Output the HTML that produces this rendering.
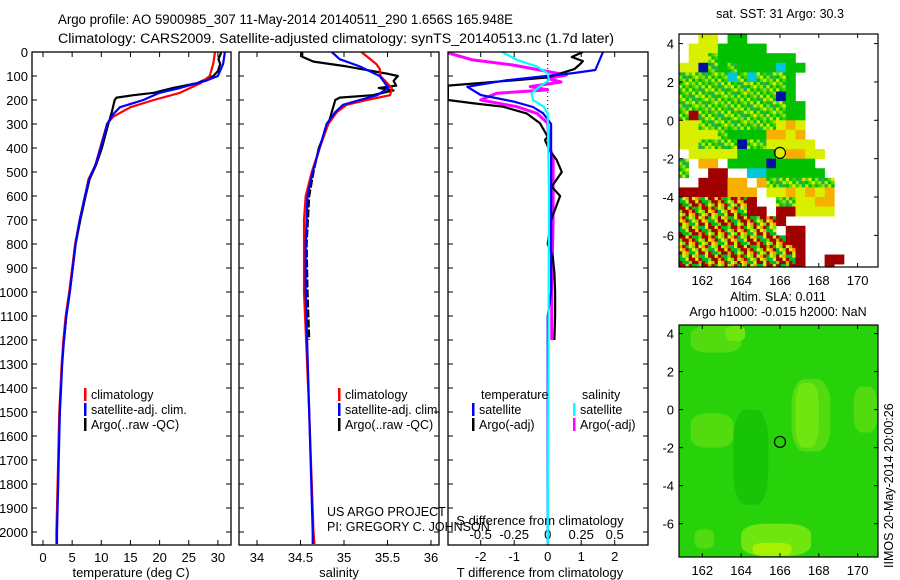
<!DOCTYPE html>
<html><head><meta charset="utf-8"><style>
html,body{margin:0;padding:0;background:#fff;}
svg{display:block;font-family:"Liberation Sans",sans-serif;}
</style></head><body>
<svg id="c" width="900" height="580" viewBox="0 0 900 580" xmlns="http://www.w3.org/2000/svg">
<text x="58" y="24" font-size="13.5" textLength="455" lengthAdjust="spacingAndGlyphs">Argo profile: AO 5900985_307 11-May-2014 20140511_290 1.656S 165.948E</text>
<text x="58" y="43" font-size="13.5" textLength="556" lengthAdjust="spacingAndGlyphs">Climatology: CARS2009. Satellite-adjusted climatology: synTS_20140513.nc (1.7d later)</text>
<g id="g"></g>
</svg>
<script>
// ---- Temperature profiles ----
const tClimDepth=[0,50,100,130,170,200,230,270,300,400,470,530,600,700,800,900,1000,1100,1200,1300,1400,1500,1600,1700,1800,1900,2000,2050];
const tClim=[29.5,29.2,28.6,27,23.5,19,15,12,11,9.8,9,7.8,7.2,6.3,5.5,5,4.5,3.9,3.5,3.2,3.0,2.8,2.7,2.6,2.5,2.4,2.3,2.3];
const tSatDepth=[0,50,100,120,150,170,200,230,260,300,400,470,530,600,700,800,900,1000,1100,1200,1300,1400,1500,1600,1700,1800,1900,2000,2050];
const tSat=[31.2,30.9,30,27.9,23.5,20,17.2,13.2,12,11,9.9,9.0,7.9,7.2,6.3,5.6,5.1,4.6,4.0,3.6,3.3,3.1,2.9,2.8,2.7,2.6,2.5,2.4,2.4];
const tArgoDepth=[0,30,50,80,100,130,150,170,180,190,200,250,300,400,470,530,600,700,800,900,1000,1100,1200];
const tArgo=[30.6,30.1,30.4,30.0,29.2,26.4,22.3,19,15.5,12.6,12.3,11.8,11.2,10.1,9.1,8.0,7.3,6.4,5.6,5.1,4.6,4.0,3.6];
// ---- Salinity profiles ----
const sClimDepth=[0,50,70,100,150,180,200,220,250,300,400,500,600,700,1000,1500,2000,2050];
const sClim=[35.2,35.37,35.41,35.42,35.55,35.53,35.26,35.03,34.92,34.82,34.72,34.63,34.56,34.54,34.54,34.6,34.65,34.66];
const sSatDepth=[0,30,60,100,150,180,200,220,250,300,400,500,600,800,1000,1500,2000,2050];
const sSat=[34.86,34.95,35.18,35.41,35.51,35.38,35.18,34.99,34.9,34.8,34.72,34.64,34.58,34.56,34.56,34.6,34.64,34.64];
const sArgoDepth=[0,20,40,60,90,100,120,140,150,160,180,190,200,250,300,400,500,600,800,1000,1200];
const sArgo=[34.52,34.52,34.65,35.03,35.49,35.62,35.57,35.6,35.4,35.57,35.33,34.95,34.9,34.86,34.82,34.71,34.65,34.6,34.57,34.58,34.6];
// ---- Differences ----
const dtSatDepth=[0,75,88,117,145,179,207,229,255,300,1000,1100,2050];
const dtSat=[1.65,1.42,0.76,-1.2,-2.4,-2.0,-1.0,-0.44,-0.14,0.1,0.1,0,0];
const dsSatDepth=[0,33,61,89,117,144,172,200,228,256,600,2050];
const dsSat=[-0.34,-0.23,-0.08,0,0.01,-0.06,-0.12,-0.11,-0.03,0,0.01,0];
const dtArgoDepth=[0,21,38,50,71,106,117,140,160,200,214,228,256,297,353,367,408,450,500,561,600,700,800,850,920,1000,1100,1200];
const dtArgo=[1.05,0.72,1.05,0.97,0.8,0,-0.93,-2.98,-2.98,-2.98,-2.2,-1.33,-0.63,-0.23,0,-0.08,0.05,0.27,0.42,0.12,0.37,0.1,0,0.15,0.2,0.22,0.22,0.2];
const dsArgoDepth=[0,6,33,54,75,96,110,125,144,158,172,200,228,256,297,380,450,700,1000,1200];
const dsArgo=[-0.73,-0.73,-0.56,-0.26,-0.06,0.14,0,0.1,-0.13,0,-0.38,-0.5,-0.23,-0.08,0,0.01,0.04,0.04,0.03,0.03];
const depthTicks=[0,100,200,300,400,500,600,700,800,900,1000,1100,1200,1300,1400,1500,1600,1700,1800,1900,2000];
const tTicks=[0,5,10,15,20,25,30];
const sTicks=[34,34.5,35,35.5,36];
const dtTicks=[-2,-1,0,1,2];
const dsTicks=[-0.5,-0.25,0,0.25,0.5];
const dsTickLabels=["-0.5","-0.25","0","0.25","0.5"];
// ---- SST map (category grid: rows lat 4.5 → -7.7 in 0.5 steps, cols lon 160.8 + 0.5 i) ----
const sstRows=[
"..yy.gg..............",
".yyyggggg............",
".yymgggggggg.........",
"yybmgmggggcgg........",
"mmmmmcmcmmmg.........",
"mmmmmmmmmmmg.........",
"mmmmmmmmmmbg.........",
"mmmmmmmmmmmgg........",
"mrmmmmmmmmmgg........",
"yymmmmmmmmyoy........",
"yyyymggggooyo........",
"yymmmmbmmyyyyy.......",
".yyyyyggggyooyy......",
"m.oo.ggggbgggg.......",
"m..rr..ccgggggg......",
"..rrroo.ommmmmmm.....",
"rrrrrooo.yyoyoyo.....",
"xxxxxxxr..mmyyoo.....",
"xxxxxxxrr.rryyyy.....",
"xxxxxxxxxxr..........",
"xxxxxxxxxx.rr........",
"xxxxxxxxxxxrr........",
"xxxxxxxxxxxxr........",
"xxxxxxxxxxxxr..rr....",
"xxxxxxxxxxxxr..r....."];
const sstLatTop=4.5, sstLonLeft=160.8, sstCell=0.5;
// ---- SLA map patches ----
const slaPatchLon0=[161.4,163.2,166.6,169.8,161.4,164.0,161.6,163.6,166.8,164.6];
const slaPatchLat0=[3.0,3.6,-2.2,-1.2,-2.0,-7.7,-7.3,-5.0,-2.0,-7.7];
const slaPatchLon1=[164.0,164.2,168.6,171.0,163.6,167.6,162.6,165.4,168.0,166.6];
const slaPatchLat1=[4.4,4.4,1.6,1.2,-0.2,-6.0,-6.3,0.0,1.4,-7.0];
const slaPatchLevel=[1,2,1,1,1,2,1,-1,2,3];
const mapLonTicks=[162,164,166,168,170];
const mapLatTicks=[4,2,0,-2,-4,-6];
const argoLon=166, argoLat=-1.7;

const NS='http://www.w3.org/2000/svg';
const G=document.getElementById('g');
function mk(tag,attrs,parent){const e=document.createElementNS(NS,tag);for(const k in attrs)e.setAttribute(k,attrs[k]);(parent||G).appendChild(e);return e;}
const Y0=52,DY=0.24;
const yD=d=>Y0+d*DY;
const xT=v=>43+v*5.83;
const xS=v=>257+(v-34)*87;
const xDT=v=>547.7+v*33.5;
const xDS=v=>547.7+v*134;
const PB=545;
function panel(x0,x1,name){const r=mk('rect',{x:x0,y:Y0,width:x1-x0,height:PB-Y0,fill:'none',stroke:'#000','stroke-width':1.3});

}
function line(xs,ds,fx,col,name,extra){let p='';for(let i=0;i<xs.length;i++){p+=(i?'L':'M')+fx(xs[i]).toFixed(1)+','+yD(ds[i]).toFixed(1);}
const e=mk('path',Object.assign({d:p,fill:'none',stroke:col,'stroke-width':2.2,'stroke-linejoin':'round'},extra||{}));

}
function txt(x,y,s,sz,anchor,name,extra){const e=mk('text',Object.assign({x:x,y:y,'font-size':sz,'text-anchor':anchor||'start'},extra||{}));e.textContent=s;

return e;}

const P=[[32,231,'temperature-panel'],[239,439,'salinity-panel'],[448,648,'difference-panel']];
const defs=mk('defs',{});
P.forEach((p,i)=>{const c=mk('clipPath',{id:'cp'+i},defs);mk('rect',{x:p[0],y:Y0,width:p[1]-p[0],height:PB-Y0},c);});
depthTicks.forEach(d=>{const y=yD(d);
 txt(28,y+5,String(d),13,'end','depth-tick-label');
 P.forEach(p=>{mk('line',{x1:p[0],x2:p[0]+5,y1:y,y2:y,stroke:'#000'});mk('line',{x1:p[1]-5,x2:p[1],y1:y,y2:y,stroke:'#000'});});
});
tTicks.forEach(v=>{const x=xT(v);mk('line',{x1:x,x2:x,y1:PB-5,y2:PB,stroke:'#000'});mk('line',{x1:x,x2:x,y1:Y0,y2:Y0+5,stroke:'#000'});txt(x,562,String(v),13,'middle','temperature-tick-label');});
sTicks.forEach(v=>{const x=xS(v);mk('line',{x1:x,x2:x,y1:PB-5,y2:PB,stroke:'#000'});mk('line',{x1:x,x2:x,y1:Y0,y2:Y0+5,stroke:'#000'});txt(x,562,String(v),13,'middle','salinity-tick-label');});
dtTicks.forEach(v=>{const x=xDT(v);mk('line',{x1:x,x2:x,y1:PB-5,y2:PB,stroke:'#000'});mk('line',{x1:x,x2:x,y1:Y0,y2:Y0+5,stroke:'#000'});txt(x,561,String(v),13,'middle','t-diff-tick-label');});
dsTicks.forEach((v,i)=>{txt(xDS(v),539,dsTickLabels[i],13,'middle','s-diff-tick-label');});
txt(131,577,'temperature (deg C)',13,'middle','x-axis-title-temperature');
txt(339,577,'salinity',13,'middle','x-axis-title-salinity');
txt(540,577,'T difference from climatology',13,'middle','x-axis-title-t-diff');
txt(540,525,'S difference from climatology',13,'middle','x-axis-title-s-diff');
txt(327,516,'US ARGO PROJECT',12.5,'start','credit-project');
txt(327,531,'PI: GREGORY C. JOHNSON',12.5,'start','credit-pi');
mk('line',{x1:547.7,x2:547.7,y1:Y0,y2:yD(300),stroke:'#000','stroke-dasharray':'1,3'});
line(tArgo,tArgoDepth,xT,'#000','temperature-argo',{'clip-path':'url(#cp0)'});
line(tClim,tClimDepth,xT,'#f00','temperature-climatology',{'clip-path':'url(#cp0)'});
line(tSat,tSatDepth,xT,'#00f','temperature-satellite-adj',{'clip-path':'url(#cp0)'});
line(sArgo,sArgoDepth,xS,'#000','salinity-argo',{'clip-path':'url(#cp1)','stroke-dasharray':'260,0'+',8,2'.repeat(40)});
line(sClim,sClimDepth,xS,'#f00','salinity-climatology',{'clip-path':'url(#cp1)'});
line(sSat,sSatDepth,xS,'#00f','salinity-satellite-adj',{'clip-path':'url(#cp1)'});
line(dsArgo,dsArgoDepth,xDS,'#f0f','s-diff-argo',{'clip-path':'url(#cp2)','stroke-width':3});
line(dtArgo,dtArgoDepth,xDT,'#000','t-diff-argo',{'clip-path':'url(#cp2)'});
line(dtSat,dtSatDepth,xDT,'#00f','t-diff-satellite',{'clip-path':'url(#cp2)'});
line(dsSat,dsSatDepth,xDS,'#0ff','s-diff-satellite',{'clip-path':'url(#cp2)'});
P.forEach(p=>panel(p[0],p[1],p[2]));
function leg(mx,y,col,label,name){const m=mk('rect',{x:mx,y:y-10,width:2.5,height:13,fill:col});


txt(mx+7,y+1,label,12.5,'start',name);}
leg(84,398,'#f00','climatology','legend-t-climatology');
leg(84,413,'#00f','satellite-adj. clim.','legend-t-satellite');
leg(84,428,'#000','Argo(..raw -QC)','legend-t-argo');
leg(338,398,'#f00','climatology','legend-s-climatology');
leg(338,413,'#00f','satellite-adj. clim.','legend-s-satellite');
leg(338,428,'#000','Argo(..raw -QC)','legend-s-argo');
txt(481,399,'temperature',12.5,'start','legend-heading-temperature');
txt(582,399,'salinity',12.5,'start','legend-heading-salinity');
leg(472,413,'#00f','satellite','legend-dt-satellite');
leg(472,428,'#000','Argo(-adj)','legend-dt-argo');
leg(573,413,'#0ff','satellite','legend-ds-satellite');
leg(573,428,'#f0f','Argo(-adj)','legend-ds-argo');

function mapAxes(top,bot,latTop,latBot,name){
 const L=679,R=878,lon0=160.8,lon1=171.05;
 const fx=lon=>L+(lon-lon0)/(lon1-lon0)*(R-L);
 const fy=lat=>top+(latTop-lat)/(latTop-latBot)*(bot-top);
 return {L,R,top,bot,fx,fy,name};
}
const m1=mapAxes(34,267,4.5,-7.65,'sst-map');
const m2=mapAxes(325,557,4.45,-7.75,'sla-map');
const cmap={g:'#00c000',y:'#d8f000',o:'#f8b000',r:'#a00000',c:'#00c8d8',b:'#0010a0'};
const mixM=['#00c000','#60d800','#b8f000','#10b838','#40d000','#d0f000','#00c000','#30b040','#90e400'];
const mixX=['#a00000','#e0f000','#00c000','#f8a000','#a00000','#80e000','#00b050','#b00000','#d8f000'];
const cp3=mk('clipPath',{id:'cpm1'},defs);mk('rect',{x:m1.L,y:m1.top,width:m1.R-m1.L,height:m1.bot-m1.top},cp3);
const sstG=mk('g',{'clip-path':'url(#cpm1)'});
sstRows.forEach((row,j)=>{for(let i=0;i<row.length;i++){const ch=row[i];if(ch==='.')continue;
 const lonA=sstLonLeft+i*sstCell,latA=sstLatTop-j*sstCell;
 const x0=m1.fx(lonA),x1=m1.fx(lonA+sstCell),y0=m1.fy(latA),y1=m1.fy(latA-sstCell);
 if(ch==='m'||ch==='x'){const pal=ch==='m'?mixM:mixX;const w=(x1-x0)/3,h=(y1-y0)/3;
  for(let a=0;a<3;a++)for(let b=0;b<3;b++){mk('rect',{x:x0+a*w,y:y0+b*h,width:w+0.3,height:h+0.3,fill:pal[(a*4+b*5+i*7+j*3)%9]},sstG);}
 } else {const e=mk('rect',{x:x0,y:y0,width:x1-x0+0.3,height:y1-y0+0.3,fill:cmap[ch]},sstG);
  
  }
}});
const cp4=mk('clipPath',{id:'cpm2'},defs);mk('rect',{x:m2.L,y:m2.top,width:m2.R-m2.L,height:m2.bot-m2.top},cp4);
const slaG=mk('g',{'clip-path':'url(#cpm2)'});
mk('rect',{x:m2.L,y:m2.top,width:m2.R-m2.L,height:m2.bot-m2.top,fill:'#28d20a'},slaG);
const lvlCol={'-1':'#18c408','1':'#52dc10','2':'#70e610','3':'#a8f000'};
slaPatchLon0.forEach((v,i)=>{const x0=m2.fx(v),x1=m2.fx(slaPatchLon1[i]),y0=m2.fy(slaPatchLat1[i]),y1=m2.fy(slaPatchLat0[i]);
 const e=mk('rect',{x:x0,y:y0,width:x1-x0,height:y1-y0,rx:(x1-x0)/3,ry:(y1-y0)/3,fill:lvlCol[String(slaPatchLevel[i])]},slaG);
 
 });
[m1,m2].forEach(m=>{
 const fr=mk('rect',{x:m.L,y:m.top,width:m.R-m.L,height:m.bot-m.top,fill:'none',stroke:'#000','stroke-width':1.2});
 
 
 mapLonTicks.forEach(v=>{const x=m.fx(v);mk('line',{x1:x,x2:x,y1:m.bot-4,y2:m.bot,stroke:'#000'});mk('line',{x1:x,x2:x,y1:m.top,y2:m.top+4,stroke:'#000'});txt(x,m.bot+18,String(v),13,'middle',m.name+'-lon-label');});
 mapLatTicks.forEach(v=>{const y=m.fy(v);mk('line',{x1:m.L,x2:m.L+4,y1:y,y2:y,stroke:'#000'});mk('line',{x1:m.R-4,x2:m.R,y1:y,y2:y,stroke:'#000'});txt(m.L-5,y+5,String(v),13,'end',m.name+'-lat-label');});
 const c=mk('circle',{cx:m.fx(argoLon),cy:m.fy(argoLat),r:5.5,fill:'none',stroke:'#000','stroke-width':1.2});
 
 
});
txt(780,18,'sat. SST: 31 Argo: 30.3',12.5,'middle','sst-map-title');
txt(778,301,'Altim. SLA: 0.011',12.5,'middle','sla-map-title');
txt(778,316,'Argo h1000: -0.015 h2000: NaN',12.5,'middle','sla-map-subtitle');
txt(0,0,'IIMOS 20-May-2014 20:00:26',12.5,'start','timestamp-label',{transform:'translate(893,568) rotate(-90)'});
</script>
</body></html>
